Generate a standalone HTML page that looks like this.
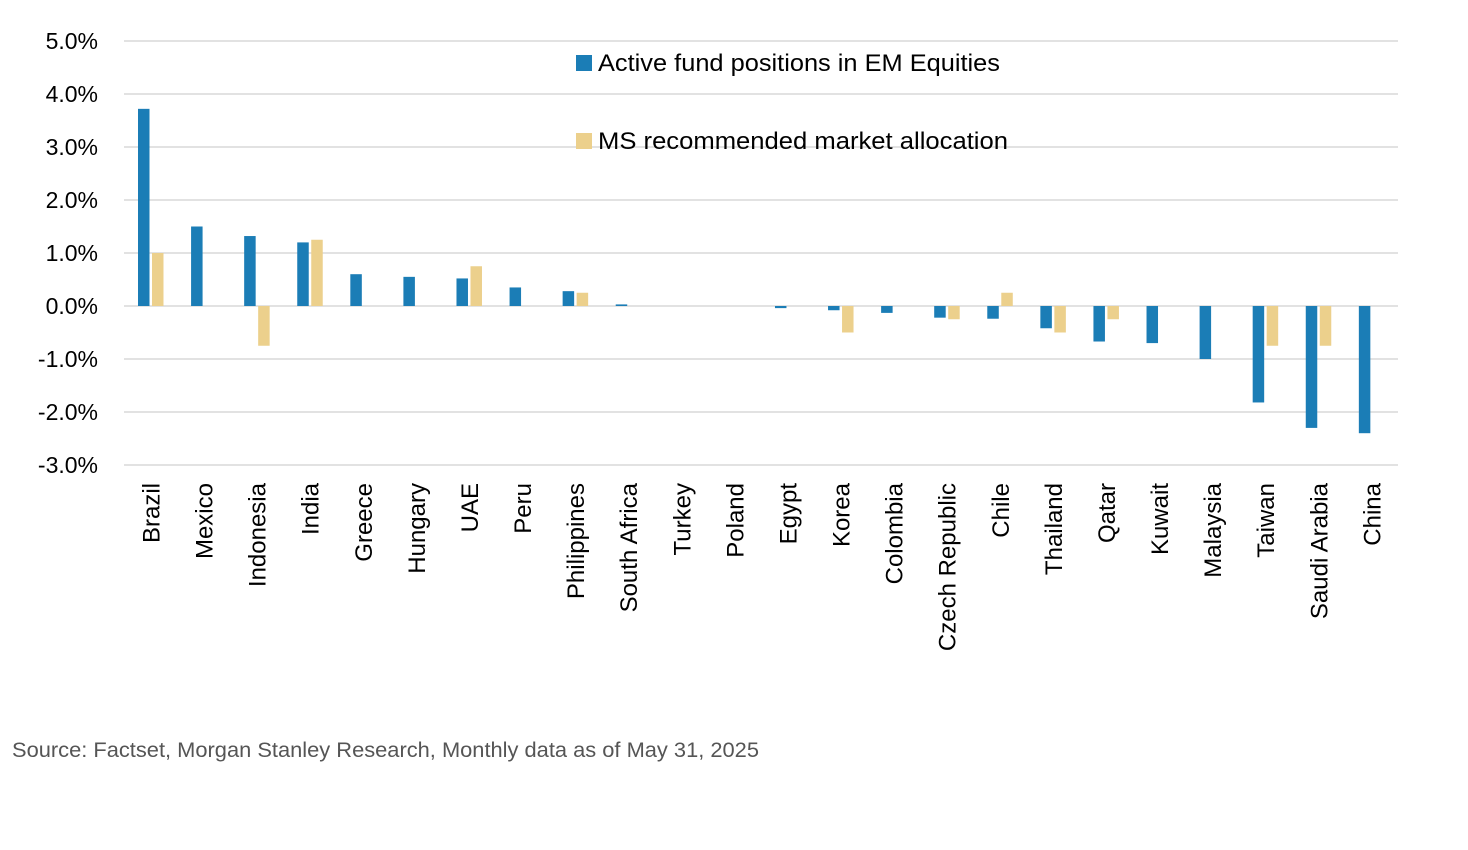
<!DOCTYPE html>
<html><head><meta charset="utf-8"><style>body{margin:0;background:#fff}svg{display:block}</style></head><body>
<svg width="1468" height="850" xmlns="http://www.w3.org/2000/svg" font-family="Liberation Sans, sans-serif">
<g stroke="#d9d9d9" stroke-width="1.5">
<line x1="124" x2="1398" y1="41" y2="41"/><line x1="124" x2="1398" y1="94" y2="94"/><line x1="124" x2="1398" y1="147" y2="147"/><line x1="124" x2="1398" y1="200" y2="200"/><line x1="124" x2="1398" y1="253" y2="253"/><line x1="124" x2="1398" y1="306" y2="306"/><line x1="124" x2="1398" y1="359" y2="359"/><line x1="124" x2="1398" y1="412" y2="412"/><line x1="124" x2="1398" y1="465" y2="465"/>
</g>
<g font-size="23" fill="#000" text-anchor="end">
<text x="98" y="49">5.0%</text><text x="98" y="102">4.0%</text><text x="98" y="155">3.0%</text><text x="98" y="208">2.0%</text><text x="98" y="261">1.0%</text><text x="98" y="314">0.0%</text><text x="98" y="367">-1.0%</text><text x="98" y="420">-2.0%</text><text x="98" y="473">-3.0%</text>
</g>
<g id="bars"></g>
<g id="labels" font-size="24" fill="#000" text-anchor="end"></g>
<rect x="576" y="55" width="16" height="16" fill="#1b7db6"/>
<text x="598" y="71" font-size="24" textLength="402" lengthAdjust="spacingAndGlyphs">Active fund positions in EM Equities</text>
<rect x="576" y="133" width="16" height="16" fill="#ecd08c"/>
<text x="598" y="149" font-size="24" textLength="410" lengthAdjust="spacingAndGlyphs">MS recommended market allocation</text>
<text x="12" y="757" font-size="21" fill="#555" textLength="747" lengthAdjust="spacingAndGlyphs">Source: Factset, Morgan Stanley Research, Monthly data as of May 31, 2025</text>
<script>
var d=[["Brazil",3.72,1.0],["Mexico",1.5,0],["Indonesia",1.32,-0.75],["India",1.2,1.25],["Greece",0.6,0],["Hungary",0.55,0],["UAE",0.52,0.75],["Peru",0.35,0],["Philippines",0.28,0.25],["South Africa",0.03,0],["Turkey",0,0],["Poland",0,0],["Egypt",-0.04,0],["Korea",-0.08,-0.5],["Colombia",-0.13,0],["Czech Republic",-0.22,-0.25],["Chile",-0.24,0.25],["Thailand",-0.42,-0.5],["Qatar",-0.67,-0.25],["Kuwait",-0.7,0],["Malaysia",-1.0,0],["Taiwan",-1.82,-0.75],["Saudi Arabia",-2.3,-0.75],["China",-2.4,0]];
var ns="http://www.w3.org/2000/svg",B=document.getElementById("bars"),L=document.getElementById("labels");
function r(x,v,c){if(!v)return;var e=document.createElementNS(ns,"rect");var y=306-v*53;e.setAttribute("x",x);e.setAttribute("width",11.5);e.setAttribute("y",Math.min(y,306));e.setAttribute("height",Math.abs(v*53));e.setAttribute("fill",c);B.appendChild(e);}
d.forEach(function(a,i){var c=150.5+i*53.08;r(c-12.5,a[1],"#1b7db6");r(c+1.5,a[2],"#ecd08c");var t=document.createElementNS(ns,"text");t.setAttribute("transform","translate("+(c+9)+",483) rotate(-90)");t.textContent=a[0];L.appendChild(t);});
</script>
</svg>
</body></html>
